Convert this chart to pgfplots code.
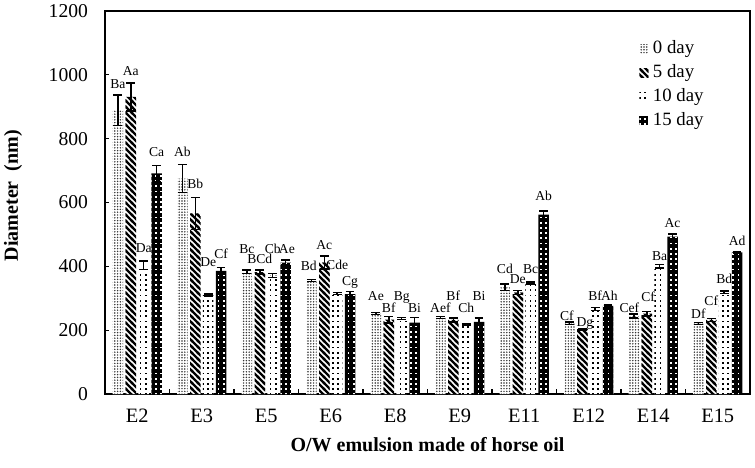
\documentclass[border=0pt]{standalone}
\usepackage{fontspec}
\setmainfont{Liberation Serif}
\usepackage{pgfplots}
\usepackage{pgfplotstable}
\pgfplotsset{compat=1.18}
\usetikzlibrary{patterns}

% fill patterns of the four storage times
\pgfdeclarepatternformonly{finedots}{\pgfqpoint{-0.5pt}{-0.5pt}}{\pgfqpoint{0.5pt}{0.5pt}}{\pgfqpoint{1.4pt}{1.4pt}}{%
  \pgfpathcircle{\pgfqpoint{0pt}{0pt}}{0.42pt}\pgfusepath{fill}}
\pgfdeclarepatternformonly{thickstripes}{\pgfqpoint{-1pt}{-1pt}}{\pgfqpoint{4pt}{4pt}}{\pgfqpoint{3pt}{3pt}}{%
  \pgfsetlinewidth{1.1pt}\pgfpathmoveto{\pgfqpoint{-0.5pt}{3.5pt}}\pgfpathlineto{\pgfqpoint{3.5pt}{-0.5pt}}\pgfusepath{stroke}}
\pgfdeclarepatternformonly{sparsedots}{\pgfqpoint{-1pt}{-1pt}}{\pgfqpoint{1pt}{1pt}}{\pgfqpoint{2.6pt}{2.6pt}}{%
  \pgfpathrectangle{\pgfqpoint{-0.45pt}{-0.45pt}}{\pgfqpoint{0.9pt}{0.9pt}}\pgfusepath{fill}}

% x: emulsion index, y: diameter, e: error, o: label lift, d: label nudge, l: letters
\pgfplotstableread{
x y e o d l
0 889 48 20 0 Ba
1 675 44 24 0 Ab
2 383 5 53 0 Bc
3 355 3 29 -0.04 Bd
4 252 3 37 0 Ae
5 240 3 12 0 Aef
6 334 10 33 0 Cd
7 222 4 4 -0.04 Cf
8 244 6 6 -0.07 Cef
9 221 3 12 0 Df
}\dA
\pgfplotstableread{
x y e o d l
0 931 44 24 0 Aa
1 566 50 27 0 Bb
2 382 6 20 0 BCd
3 412 20 20 0 Ac
4 233 10 12 0 Bf
5 232 6 54 0 Bf
6 318 7 20 0 De
7 203 3 6 0.04 Dg
8 252 7 30 0.02 Cf
9 232 5 40 0 Cf
}\dB
\pgfplotstableread{
x y e o d l
0 403 13 28 0 Da
1 310 3 85 0 De
2 371 6 64 0 Cb
3 315 3 71 0 Cde
4 237 3 52 0 Bg
5 217 3 35 0 Ch
6 348 3 26 0 Bc
7 266 5 21 0 Bf
8 400 5 13 0 Ba
9 319 4 22 0 Bd
}\dC
\pgfplotstableread{
x y e o d l
0 691 25 27 0 Ca
1 386 10 28 0 Cf
2 412 8 21 0.02 Ae
3 313 8 19 0 Cg
4 224 15 16 0 Bi
5 226 12 54 0 Bi
6 562 12 33 0 Ab
7 276 3 13 0.02 Ah
8 493 8 22 0 Ac
9 444 2 19 0 Ad
}\dD

\pgfplotsset{
  bars/.style={ybar, bar width=0.163, bar shift=0pt, draw=none,
    error bars/y dir=both, error bars/y explicit,
    error bars/error bar style={draw=black, line width=0.75pt, solid},
    error bars/error mark options={draw=black, rotate=90, mark size=2.2pt, line width=0.75pt}},
  labs/.style={draw=none, mark=none, forget plot, nodes near coords,
    point meta=explicit symbolic,
    nodes near coords style={anchor=base, font=\fontsize{6.8}{8}\selectfont, inner sep=0pt, black}},
}

\begin{document}
\begin{tikzpicture}
\useasboundingbox (-52.5pt,-36.5pt) rectangle (325pt,197pt);
\begin{axis}[
  at={(0,0)}, anchor=south west,
  scale only axis, width=322.5pt, height=191.5pt,
  xmin=-0.5, xmax=9.5, ymin=0, ymax=1200,
  xtick={0,...,9}, xticklabels={E2,E3,E5,E6,E8,E9,E11,E12,E14,E15},
  major x tick style={draw=none},
  minor xtick={0.5,1.5,...,8.5},
  ytick={0,200,...,1200},
  xtick pos=left, ytick pos=left,
  tick align=inside,
  major tick length=2pt, minor tick length=2.5pt,
  tick style={black, line width=0.6pt},
  axis line style={line width=0.75pt},
  /pgf/number format/1000 sep={},
  /pgf/number format/assume math mode=true,
  xticklabel style={font=\fontsize{10.2}{12}\selectfont, yshift=-4pt},
  yticklabel style={font=\fontsize{9.8}{11}\selectfont, xshift=-5pt},
  xlabel={\textbf{O/W emulsion made of horse oil}},
  ylabel={\textbf{Diameter\ \ (nm)}},
  every axis x label/.style={at={(rel axis cs:0.5,0)}, anchor=center, yshift=-25.5pt, font=\fontsize{10}{12}\selectfont},
  every axis y label/.style={at={(rel axis cs:0,0.518)}, anchor=center, xshift=-46pt, rotate=90, font=\fontsize{10}{12}\selectfont},
  legend image code/.code={\path[#1, draw=none] (0pt,-2.2pt) rectangle (4.4pt,2.2pt);},
  legend style={at={(rel axis cs:0.828,0.925)}, anchor=north west, draw=none, fill=none,
    inner sep=0pt, row sep=3.5pt,
    nodes={inner sep=0pt, text height=6.5pt, text depth=2pt, font=\fontsize{9.4}{11}\selectfont}},
  legend cell align=left,
]
\addplot[bars, fill=white, postaction={pattern=finedots, pattern color=black!80}]
  table[x expr=\thisrow{x}-0.3, y=y, y error=e] {\dA};
\addlegendentry{\ 0 day}
\addplot[bars, fill=white, postaction={pattern=thickstripes, pattern color=black}]
  table[x expr=\thisrow{x}-0.1, y=y, y error=e] {\dB};
\addlegendentry{\ 5 day}
\addplot[bars, fill=white, postaction={pattern=sparsedots, pattern color=black}]
  table[x expr=\thisrow{x}+0.1, y=y, y error=e] {\dC};
\addlegendentry{\ 10 day}
\addplot[bars, fill=black, postaction={pattern=sparsedots, pattern color=white}]
  table[x expr=\thisrow{x}+0.3, y=y, y error=e] {\dD};
\addlegendentry{\ 15 day}

\addplot[labs] table[x expr=\thisrow{x}-0.3+\thisrow{d}, y expr=\thisrow{y}+\thisrow{e}+\thisrow{o}, meta=l] {\dA};
\addplot[labs] table[x expr=\thisrow{x}-0.1+\thisrow{d}, y expr=\thisrow{y}+\thisrow{e}+\thisrow{o}, meta=l] {\dB};
\addplot[labs] table[x expr=\thisrow{x}+0.1+\thisrow{d}, y expr=\thisrow{y}+\thisrow{e}+\thisrow{o}, meta=l] {\dC};
\addplot[labs] table[x expr=\thisrow{x}+0.3+\thisrow{d}, y expr=\thisrow{y}+\thisrow{e}+\thisrow{o}, meta=l] {\dD};
\end{axis}
\end{tikzpicture}
\end{document}
